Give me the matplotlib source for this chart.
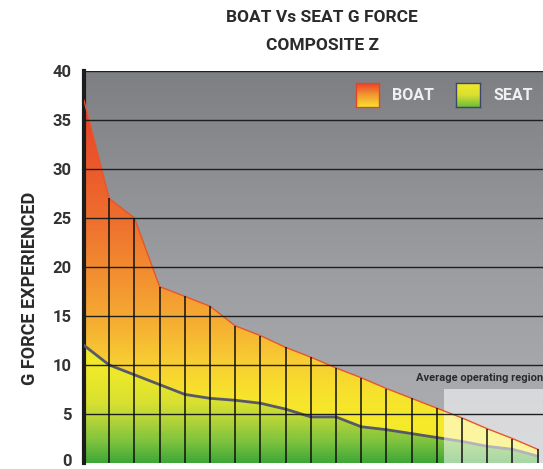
import numpy as np
import matplotlib
matplotlib.use("Agg")
from matplotlib import pyplot as plt
from matplotlib.colors import LinearSegmentedColormap
from matplotlib.patches import Polygon, Rectangle
from matplotlib.transforms import ScaledTranslation

# data
samples = list(range(19))
boat = [37, 27, 25, 18, 17, 16, 14, 13, 11.8, 10.8, 9.7, 8.7, 7.6, 6.6, 5.6, 4.6, 3.5, 2.5, 1.4]
seat = [12, 10, 9, 8, 7, 6.6, 6.4, 6.1, 5.5, 4.7, 4.7, 3.7, 3.4, 3.0, 2.6, 2.2, 1.7, 1.4, 0.7]
y_ticks = [0, 5, 10, 15, 20, 25, 30, 35, 40]
region_start = 14.3
region_top = 7.6
region_label = "Average operating region"

plt.rcParams['font.family'] = ['Roboto', 'DejaVu Sans']

W, H = 543, 469
XMAX = 18.4
fig = plt.figure(figsize=(W / 100, H / 100), dpi=100)
fig.patch.set_facecolor('white')

def px(x0, y0, w, h):
    # pixel box (from top-left) -> figure fraction
    return [x0 / W, 1 - (y0 + h) / H, w / W, h / H]

ax = fig.add_axes(px(84, 71, 25.2 * XMAX, 392))
ax.set_xlim(0, XMAX)
ax.set_ylim(0, 40)

grad = np.linspace(0, 1, 400).reshape(-1, 1)

bg_cmap = LinearSegmentedColormap.from_list('bg', ['#b0b1b5', '#9c9da1', '#7e7f83'])
boat_cmap = LinearSegmentedColormap.from_list('boat', [
    (0, '#f5ea2a'), (4 / 40, '#f5ea2a'), (7 / 40, '#f7e22c'), (10 / 40, '#f8cf32'),
    (12 / 40, '#f7bf32'), (15 / 40, '#f5a833'), (20 / 40, '#f28a30'), (25 / 40, '#ee6e2e'),
    (30 / 40, '#eb5a2c'), (37 / 40, '#e63f2a'), (1, '#e43a28')])
seat_cmap = LinearSegmentedColormap.from_list('seat', [
    (0, '#40a838'), (2 / 40, '#7cc23e'), (4.5 / 40, '#b8d638'), (6 / 40, '#d8e030'),
    (9 / 40, '#eee82a'), (12 / 40, '#f5e82a'), (1, '#f5e82a')])

ext = [0, XMAX, 0, 40]
ax.imshow(grad, extent=ext, origin='lower', aspect='auto', cmap=bg_cmap, zorder=0)

boat_poly = Polygon([(0, 0)] + list(zip(samples, boat)) + [(samples[-1], 0)],
                    closed=True, facecolor='none', edgecolor='none', transform=ax.transData)
seat_poly = Polygon([(0, 0)] + list(zip(samples, seat)) + [(samples[-1], 0)],
                    closed=True, facecolor='none', edgecolor='none', transform=ax.transData)
ax.add_patch(boat_poly)
ax.add_patch(seat_poly)

im_boat = ax.imshow(grad, extent=ext, origin='lower', aspect='auto', cmap=boat_cmap, zorder=1)
im_boat.set_clip_path(boat_poly)
im_seat = ax.imshow(grad, extent=ext, origin='lower', aspect='auto', cmap=seat_cmap, zorder=2)
im_seat.set_clip_path(seat_poly)

ax.plot(samples, seat, color='#565a68', lw=2, zorder=3)
ax.add_patch(Rectangle((region_start, 0), XMAX - region_start + 1, region_top,
                       facecolor='white', alpha=0.55, edgecolor='none', zorder=3.5))
ax.plot(samples, boat, color='#e8552a', lw=1, zorder=4)

ax.hlines(y_ticks[1:], 0, XMAX, color='#1f1f1f', lw=1, zorder=5)
ax.vlines(samples[1:], 0, boat[1:], color='#111111', lw=1.1, zorder=5)

ax.text(13.17, 8.7, region_label, fontsize=8, fontweight='bold', color='#2b2b2b',
        va='center', ha='left', zorder=6)

ax.set_xlim(0, XMAX)
ax.set_ylim(0, 40)
ax.set_xticks([])
ax.set_yticks(y_ticks)
ax.set_yticklabels([str(t) for t in y_ticks], fontsize=12, fontweight='bold', color='#333333')
ax.tick_params(axis='y', length=0, pad=9)
# lift the "0" a little so it stays inside the picture
zero = ax.get_yticklabels()[0]
zero.set_transform(zero.get_transform() + ScaledTranslation(0, 0.035, fig.dpi_scale_trans))
for s in ['top', 'right', 'bottom']:
    ax.spines[s].set_visible(False)
ax.spines['left'].set_linewidth(3)
ax.spines['left'].set_color('#1c1c1c')

# titles and axis label
fig.text(322 / W, 1 - 18 / H, "BOAT Vs SEAT G FORCE", ha='center', va='center',
         fontsize=12.5, fontweight='bold', color='#2a2a2a')
fig.text(322 / W, 1 - 45 / H, "COMPOSITE Z", ha='center', va='center',
         fontsize=12.5, fontweight='bold', color='#2a2a2a')
fig.text(30 / W, 1 - 288 / H, "G FORCE EXPERIENCED", ha='center', va='center',
         rotation=90, fontsize=13, fontweight='bold', color='#2a2a2a')

# legend swatches
sw_boat = fig.add_axes(px(356, 83, 23, 24))
sw_boat.imshow(grad, origin='lower', aspect='auto',
               cmap=LinearSegmentedColormap.from_list('sb', ['#f8e030', '#f39a30', '#e8402a']))
sw_seat = fig.add_axes(px(456, 83, 24, 24))
sw_seat.imshow(grad, origin='lower', aspect='auto',
               cmap=LinearSegmentedColormap.from_list('ss', ['#6cbc3c', '#d8e030', '#f5e82a']))
for sw, ec in [(sw_boat, '#e2452c'), (sw_seat, '#3b4a6b')]:
    sw.set_xticks([])
    sw.set_yticks([])
    for s in sw.spines.values():
        s.set_color(ec)
        s.set_linewidth(1)

fig.text(392 / W, 1 - 95 / H, "BOAT", ha='left', va='center', fontsize=11.5,
         fontweight='bold', color='#f0f0f0')
fig.text(493 / W, 1 - 95 / H, "SEAT", ha='left', va='center', fontsize=11.5,
         fontweight='bold', color='#f0f0f0')

fig.savefig('out.png', dpi=100)
